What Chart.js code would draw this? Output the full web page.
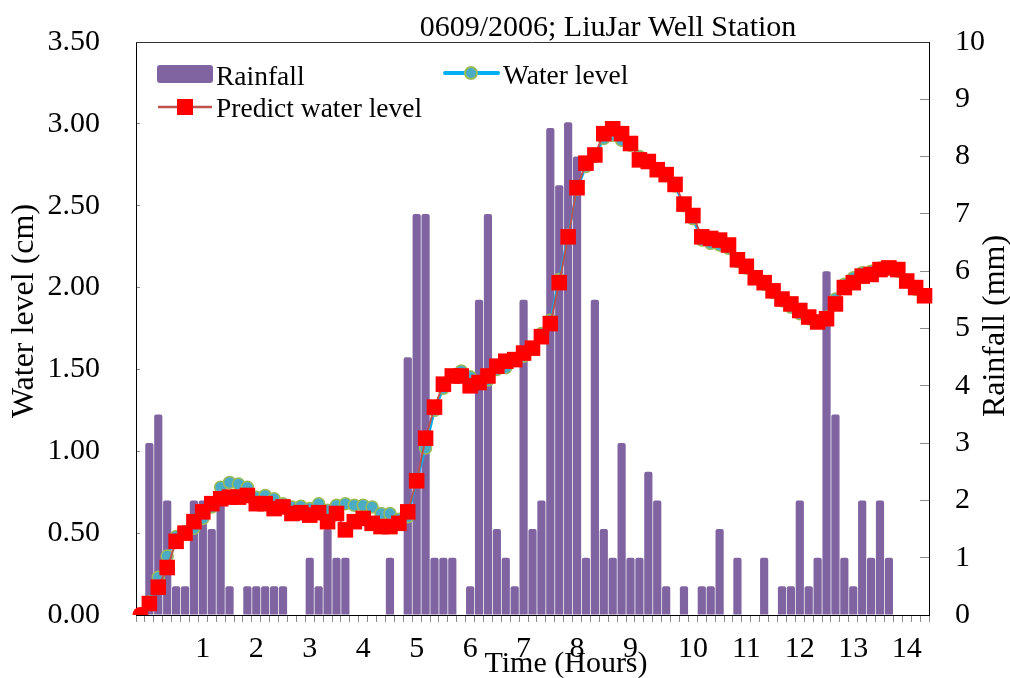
<!DOCTYPE html>
<html>
<head>
<meta charset="utf-8">
<script src="https://cdn.jsdelivr.net/npm/chart.js@4.4.1/dist/chart.umd.min.js"></script>
<style>
  html, body { margin: 0; padding: 0; background: #fff; }
  #wrap { position: relative; width: 1010px; height: 678px; }
</style>
</head>
<body>
<div id="wrap"><canvas id="myChart"></canvas></div>
<script>
// one category every 10 minutes, hour labels only where the original axis shows them
const hourLabels = ['1', '2', '3', '4', '5', '6', '7', '8', '9', '10', '11', '12', '13', '14'];
const hourIndex = [7, 13, 19, 25, 31, 37, 43, 49, 55, 62, 68, 74, 80, 86];

// rainfall (mm)
const rainfall = [
    0, 3.0, 3.5, 2.0, 0.5, 0.5, 2.0, 2.0, 1.5, 2.0,
    0.5, 0, 0.5, 0.5, 0.5, 0.5, 0.5, 0, 0, 1.0,
    0.5, 1.5, 1.0, 1.0, 0, 0, 0, 0, 1.0, 0,
    4.5, 7.0, 7.0, 1.0, 1.0, 1.0, 0, 0.5, 5.5, 7.0,
    1.5, 1.0, 0.5, 5.5, 1.5, 2.0, 8.5, 7.5, 8.6, 8.0,
    1.0, 5.5, 1.5, 1.0, 3.0, 1.0, 1.0, 2.5, 2.0, 0.5,
    0, 0.5, 0, 0.5, 0.5, 1.5, 0, 1.0, 0, 0,
    1.0, 0, 0.5, 0.5, 2.0, 0.5, 1.0, 6.0, 3.5, 1.0,
    0.5, 2.0, 1.0, 2.0, 1.0, 0, 0, 0, 0
];

// observed water level (cm)
const waterLevel = [
    0, 0.08, 0.23, 0.36, 0.48, 0.51, 0.53, 0.59, 0.66, 0.78,
    0.81, 0.80, 0.78, 0.72, 0.73, 0.71, 0.68, 0.66, 0.665, 0.65,
    0.68, 0.64, 0.67, 0.68, 0.67, 0.67, 0.66, 0.62, 0.62, 0.585,
    0.60, 0.82, 1.02, 1.25, 1.385, 1.465, 1.49, 1.455, 1.425, 1.435,
    1.50, 1.51, 1.555, 1.58, 1.63, 1.72, 1.80, 2.05, 2.32, 2.60,
    2.74, 2.80, 2.91, 2.93, 2.90, 2.87, 2.80, 2.77, 2.72, 2.69,
    2.62, 2.50, 2.42, 2.29, 2.27, 2.26, 2.24, 2.16, 2.12, 2.06,
    2.02, 1.97, 1.92, 1.88, 1.84, 1.81, 1.79, 1.82, 1.93, 2.02,
    2.06, 2.09, 2.10, 2.12, 2.12, 2.10, 2.04, 1.99, 1.95
];

// predicted water level (cm)
const predictLevel = [
    0, 0.07, 0.17, 0.29, 0.45, 0.50, 0.57, 0.63, 0.68, 0.71,
    0.72, 0.72, 0.73, 0.68, 0.68, 0.65, 0.66, 0.62, 0.625, 0.61,
    0.625, 0.57, 0.62, 0.52, 0.57, 0.59, 0.56, 0.54, 0.54, 0.56,
    0.63, 0.82, 1.08, 1.27, 1.41, 1.46, 1.46, 1.40, 1.42, 1.46,
    1.52, 1.55, 1.56, 1.60, 1.63, 1.70, 1.78, 2.03, 2.31, 2.61,
    2.76, 2.81, 2.94, 2.97, 2.94, 2.88, 2.78, 2.77, 2.72, 2.69,
    2.63, 2.51, 2.44, 2.31, 2.30, 2.29, 2.26, 2.17, 2.13, 2.06,
    2.03, 1.98, 1.93, 1.90, 1.86, 1.82, 1.79, 1.81, 1.90, 2.00,
    2.03, 2.07, 2.08, 2.11, 2.12, 2.11, 2.04, 2.00, 1.95
];

const categories = rainfall.map(() => '');
hourIndex.forEach((idx, i) => { categories[idx] = hourLabels[i]; });

const serif = "'Liberation Serif', 'DejaVu Serif', serif";
const purple = '#8064a2';
const blueLine = '#00b0f0';
const redLine = '#c0504d';

Chart.defaults.font.family = serif;
Chart.defaults.color = '#000';

// title, legend, axis titles and the top frame line
const decorations = {
    id: 'decorations',
    afterDraw(chart) {
        const ctx = chart.ctx;
        const a = chart.chartArea;
        ctx.save();

        ctx.strokeStyle = '#333';
        ctx.lineWidth = 1;
        ctx.beginPath();
        ctx.moveTo(a.left, a.top + 0.5);
        ctx.lineTo(a.right, a.top + 0.5);
        ctx.stroke();

        ctx.fillStyle = '#000';
        ctx.textBaseline = 'alphabetic';
        ctx.textAlign = 'center';
        ctx.font = '30px ' + serif;
        ctx.fillText('0609/2006; LiuJar Well Station', 608, 36);

        ctx.fillText('Time (Hours)', 566, 672);

        ctx.save();
        ctx.translate(33, 311);
        ctx.rotate(-Math.PI / 2);
        ctx.font = '32px ' + serif;
        ctx.fillText('Water level (cm)', 0, 0);
        ctx.restore();

        ctx.save();
        ctx.translate(1004, 326);
        ctx.rotate(-Math.PI / 2);
        ctx.font = '32px ' + serif;
        ctx.fillText('Rainfall (mm)', 0, 0);
        ctx.restore();

        // legend
        ctx.textAlign = 'left';
        ctx.font = '27.5px ' + serif;

        ctx.fillStyle = purple;
        ctx.beginPath();
        ctx.roundRect(157, 65, 56, 18, 3);
        ctx.fill();
        ctx.fillStyle = '#000';
        ctx.fillText('Rainfall', 216, 85);

        ctx.strokeStyle = blueLine;
        ctx.lineWidth = 4;
        ctx.lineCap = 'round';
        ctx.beginPath();
        ctx.moveTo(445, 73);
        ctx.lineTo(498, 73);
        ctx.stroke();
        ctx.beginPath();
        ctx.arc(471, 73, 6, 0, Math.PI * 2);
        ctx.fillStyle = '#4bacc6';
        ctx.fill();
        ctx.strokeStyle = '#9bbb59';
        ctx.lineWidth = 2;
        ctx.stroke();
        ctx.fillStyle = '#000';
        ctx.fillText('Water level', 503, 84);

        ctx.strokeStyle = redLine;
        ctx.lineWidth = 2.5;
        ctx.lineCap = 'butt';
        ctx.beginPath();
        ctx.moveTo(158, 107);
        ctx.lineTo(212, 107);
        ctx.stroke();
        ctx.fillStyle = '#ff0000';
        ctx.fillRect(177, 99, 16, 16);
        ctx.fillStyle = '#000';
        ctx.fillText('Predict water level', 216, 117);

        ctx.restore();
    }
};

const ctx = document.getElementById('myChart');
new Chart(ctx, {
    type: 'bar',
    data: {
        labels: categories,
        datasets: [
            {
                label: 'Rainfall',
                data: rainfall,
                yAxisID: 'y2',
                backgroundColor: purple,
                borderWidth: 0,
                borderRadius: 2,
                barPercentage: 0.92,
                categoryPercentage: 1.0,
                order: 3
            },
            {
                type: 'line',
                label: 'Water level',
                data: waterLevel,
                yAxisID: 'y',
                borderColor: blueLine,
                borderWidth: 2.5,
                pointRadius: 6,
                pointBackgroundColor: '#4bacc6',
                pointBorderColor: '#9bbb59',
                pointBorderWidth: 1.5,
                tension: 0,
                order: 2
            },
            {
                type: 'line',
                label: 'Predict water level',
                data: predictLevel,
                yAxisID: 'y',
                borderColor: redLine,
                borderWidth: 2,
                pointStyle: (c) => c.dataIndex === 0 ? 'circle' : 'rect',
                pointRadius: (c) => c.dataIndex === 0 ? 8 : 11,
                pointBackgroundColor: '#ff0000',
                pointBorderColor: '#ff0000',
                pointBorderWidth: 0,
                tension: 0,
                order: 1
            }
        ]
    },
    options: {
        responsive: true,
        maintainAspectRatio: false,
        animation: false,
        layout: { padding: { top: 42, left: 0, right: 0, bottom: 0 } },
        plugins: {
            legend: { display: false },
            title: { display: false },
            tooltip: { enabled: false }
        },
        scales: {
            x: {
                type: 'category',
                offset: true,
                grid: {
                    offset: true,
                    drawOnChartArea: false,
                    drawTicks: true,
                    tickLength: 7,
                    color: '#8a8a8a'
                },
                border: { color: '#000', width: 1 },
                ticks: {
                    autoSkip: false,
                    maxRotation: 0,
                    minRotation: 0,
                    padding: 9,
                    color: '#000',
                    font: { size: 30 }
                },
                afterFit(scale) {
                    scale.height = 63;
                    scale.paddingLeft = 0;
                    scale.paddingRight = 0;
                }
            },
            y: {
                position: 'left',
                min: 0,
                max: 3.5,
                grid: {
                    drawOnChartArea: false,
                    drawTicks: true,
                    tickLength: -4,
                    color: '#8a8a8a'
                },
                border: { color: '#000', width: 1 },
                ticks: {
                    stepSize: 0.5,
                    padding: 40,
                    color: '#000',
                    font: { size: 30 },
                    callback: (v) => v.toFixed(2)
                },
                afterFit(scale) {
                    scale.width = 136;
                    scale.paddingTop = 0;
                    scale.paddingBottom = 0;
                }
            },
            y2: {
                position: 'right',
                min: 0,
                max: 10,
                grid: {
                    drawOnChartArea: false,
                    drawTicks: true,
                    tickLength: -9,
                    color: '#8a8a8a'
                },
                border: { color: '#000', width: 1 },
                ticks: {
                    stepSize: 1,
                    padding: 35,
                    color: '#000',
                    font: { size: 30 }
                },
                afterFit(scale) {
                    scale.width = 81;
                    scale.paddingTop = 0;
                    scale.paddingBottom = 0;
                }
            }
        }
    },
    plugins: [decorations]
});
</script>
</body>
</html>
